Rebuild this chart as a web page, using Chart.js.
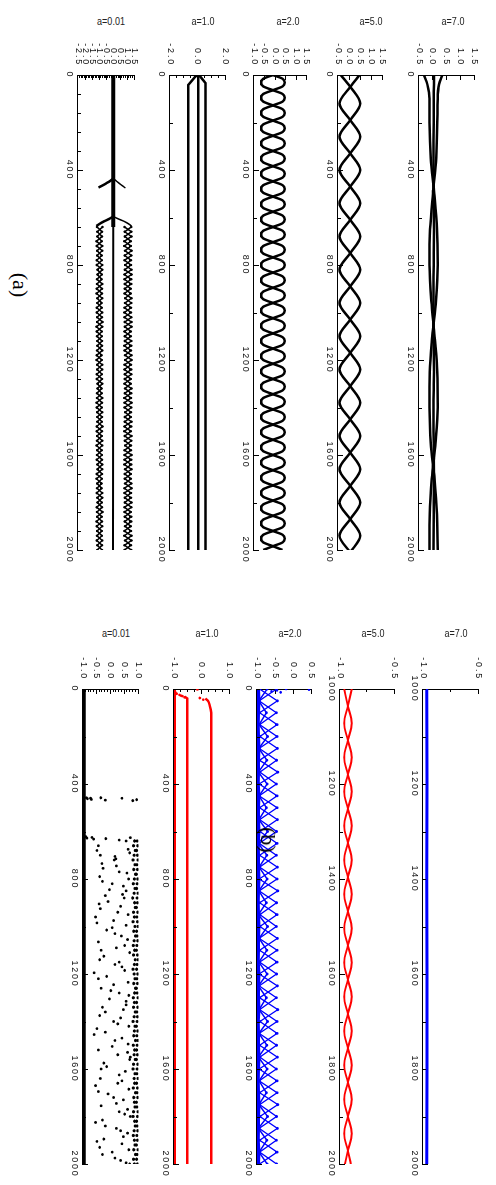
<!DOCTYPE html>
<html>
<head>
<meta charset="utf-8">
<script src="https://cdn.jsdelivr.net/npm/chart.js@4.4.0/dist/chart.umd.min.js"></script>
<style>
  html, body { margin: 0; padding: 0; background: #fff; }
  #fig { position: relative; width: 496px; height: 1185px; overflow: hidden; }
  canvas { position: absolute; left: 0; top: 0; transform-origin: 0 0; }
  .ttl { position: absolute; font-family: "Liberation Sans", sans-serif;
         font-size: 11px; color: #222; transform: translate(-50%, -50%) scaleX(0.82); white-space: nowrap; }
  .pl { position: absolute; font-family: "Liberation Serif", serif; font-size: 22px; color: #000;
        transform: translate(-50%, -50%) rotate(90deg); white-space: nowrap; }
</style>
</head>
<body>
<div id="fig"></div>
<script>
// ---- data (time along each strip, value across it) ----

// shared sample times for the dotted bands (640..2000 step 20)
const tBand = [640,660,680,700,720,740,760,780,800,820,840,860,880,900,920,940,960,980,1000,1020,
  1040,1060,1080,1100,1120,1140,1160,1180,1200,1220,1240,1260,1280,1300,1320,1340,1360,1380,1400,1420,
  1440,1460,1480,1500,1520,1540,1560,1580,1600,1620,1640,1660,1680,1700,1720,1740,1760,1780,1800,1820,
  1840,1860,1880,1900,1920,1940,1960,1980,2000];

// (a) a=0.01
const a1CoreT = [0, 640];
const a1CoreV = [0.0, 0.0];
const a1MidT = [640, 2000];
const a1MidV = [0.0, -0.02];
const a1Arm1LT = [436, 446, 456, 466, 474];
const a1Arm1LV = [0.0, -0.22, -0.5, -0.8, -1.05];
const a1Arm1RT = [436, 446, 458, 468, 476];
const a1Arm1RV = [0.0, 0.2, 0.45, 0.68, 0.85];
const a1Arm2LT = [596, 606, 616, 626, 636];
const a1Arm2LV = [0.0, -0.3, -0.65, -0.95, -1.2];
const a1Arm2RT = [596, 606, 616, 626, 636];
const a1Arm2RV = [0.0, 0.35, 0.75, 1.05, 1.28];
const a1L1 = [-1.16,-0.80,-1.14,-0.82,-1.18,-0.79,-1.15,-0.81,-1.17,-0.78,
  -1.13,-0.83,-1.16,-0.80,-1.19,-0.79,-1.14,-0.82,-1.17,-0.80,
  -1.15,-0.78,-1.18,-0.81,-1.14,-0.80,-1.16,-0.83,-1.19,-0.79,
  -1.15,-0.81,-1.17,-0.78,-1.13,-0.82,-1.16,-0.80,-1.18,-0.79,
  -1.14,-0.81,-1.17,-0.80,-1.15,-0.78,-1.19,-0.82,-1.16,-0.80,
  -1.14,-0.79,-1.18,-0.81,-1.15,-0.83,-1.17,-0.78,-1.13,-0.80,
  -1.16,-0.82,-1.19,-0.79,-1.15,-0.81,-1.17,-0.80,-1.14];
const a1L2 = [-0.77,-1.14,-0.80,-1.19,-0.78,-1.15,-0.82,-1.17,-0.79,-1.13,
  -0.81,-1.16,-0.78,-1.18,-0.80,-1.14,-0.83,-1.17,-0.79,-1.15,
  -0.77,-1.19,-0.81,-1.16,-0.80,-1.14,-0.78,-1.18,-0.82,-1.15,
  -0.79,-1.17,-0.80,-1.13,-0.83,-1.16,-0.78,-1.19,-0.81,-1.15,
  -0.80,-1.14,-0.77,-1.18,-0.82,-1.16,-0.79,-1.15,-0.81,-1.17,
  -0.78,-1.13,-0.80,-1.19,-0.83,-1.16,-0.79,-1.14,-0.81,-1.18,
  -0.77,-1.15,-0.80,-1.17,-0.82,-1.16,-0.79,-1.14,-0.80];
const a1R1 = [0.79,1.27,0.81,1.24,0.77,1.29,0.80,1.25,0.83,1.28,
  0.78,1.26,0.80,1.23,0.79,1.28,0.82,1.25,0.77,1.27,
  0.80,1.29,0.78,1.24,0.81,1.26,0.79,1.28,0.83,1.25,
  0.78,1.27,0.80,1.23,0.82,1.26,0.77,1.29,0.79,1.25,
  0.81,1.28,0.78,1.24,0.80,1.27,0.83,1.25,0.79,1.26,
  0.77,1.28,0.80,1.24,0.82,1.29,0.78,1.25,0.81,1.27,
  0.79,1.26,0.80,1.23,0.78,1.28,0.82,1.25,0.79];
const a1R2 = [1.26,0.80,1.28,0.77,1.24,0.82,1.27,0.79,1.25,0.81,
  1.29,0.78,1.26,0.80,1.23,0.83,1.27,0.79,1.25,0.78,
  1.28,0.81,1.24,0.80,1.27,0.77,1.25,0.82,1.29,0.79,
  1.26,0.80,1.23,0.78,1.28,0.81,1.25,0.79,1.27,0.83,
  1.24,0.80,1.26,0.77,1.28,0.81,1.25,0.79,1.29,0.78,
  1.26,0.82,1.24,0.80,1.27,0.78,1.25,0.81,1.28,0.79,
  1.23,0.80,1.26,0.82,1.25,0.77,1.28,0.79,1.26];

// (a) a=1.0
const a2LeftT = [0, 8, 42, 2000];
const a2LeftV = [-0.02, -0.2, -0.69, -0.69];
const a2MidT = [0, 2000];
const a2MidV = [0.03, 0.03];
const a2RightT = [0, 8, 34, 2000];
const a2RightV = [0.04, 0.2, 0.55, 0.55];

// (a) a=2.0  (two strands, loops about every 64 steps)
const tA3 = [0,16,32,48,64,80,96,112,128,144,
  160,176,192,208,224,240,256,272,288,304,
  320,336,352,368,384,400,416,432,448,464,
  480,496,512,528,544,560,576,592,608,624,
  640,656,672,688,704,720,736,752,768,784,
  800,816,832,848,864,880,896,912,928,944,
  960,976,992,1008,1024,1040,1056,1072,1088,1104,
  1120,1136,1152,1168,1184,1200,1216,1232,1248,1264,
  1280,1296,1312,1328,1344,1360,1376,1392,1408,1424,
  1440,1456,1472,1488,1504,1520,1536,1552,1568,1584,
  1600,1616,1632,1648,1664,1680,1696,1712,1728,1744,
  1760,1776,1792,1808,1824,1840,1856,1872,1888,1904,
  1920,1936,1952,1968,1984,2000];
const a3S1 = [-0.10,0.36,0.46,0.36,-0.10,-0.56,-0.66,-0.56,
  -0.10,0.36,0.46,0.36,-0.10,-0.56,-0.66,-0.56,
  -0.10,0.36,0.46,0.36,-0.10,-0.56,-0.66,-0.56,
  -0.10,0.36,0.46,0.36,-0.10,-0.56,-0.66,-0.56,
  -0.10,0.36,0.46,0.36,-0.10,-0.56,-0.66,-0.56,
  -0.10,0.36,0.46,0.36,-0.10,-0.56,-0.66,-0.56,
  -0.10,0.36,0.46,0.36,-0.10,-0.56,-0.66,-0.56,
  -0.10,0.36,0.46,0.36,-0.10,-0.56,-0.66,-0.56,
  -0.10,0.36,0.46,0.36,-0.10,-0.56,-0.66,-0.56,
  -0.10,0.36,0.46,0.36,-0.10,-0.56,-0.66,-0.56,
  -0.10,0.36,0.46,0.36,-0.10,-0.56,-0.66,-0.56,
  -0.10,0.36,0.46,0.36,-0.10,-0.56,-0.66,-0.56,
  -0.10,0.36,0.46,0.36,-0.10,-0.56,-0.66,-0.56,
  -0.10,0.36,0.46,0.36,-0.10,-0.56,-0.66,-0.56,
  -0.10,0.36,0.46,0.36,-0.10,-0.56,-0.66,-0.56,
  -0.10,0.36,0.46,0.36,-0.10,-0.56];
const a3S2 = [-0.10,-0.56,-0.66,-0.56,-0.10,0.36,0.46,0.36,
  -0.10,-0.56,-0.66,-0.56,-0.10,0.36,0.46,0.36,
  -0.10,-0.56,-0.66,-0.56,-0.10,0.36,0.46,0.36,
  -0.10,-0.56,-0.66,-0.56,-0.10,0.36,0.46,0.36,
  -0.10,-0.56,-0.66,-0.56,-0.10,0.36,0.46,0.36,
  -0.10,-0.56,-0.66,-0.56,-0.10,0.36,0.46,0.36,
  -0.10,-0.56,-0.66,-0.56,-0.10,0.36,0.46,0.36,
  -0.10,-0.56,-0.66,-0.56,-0.10,0.36,0.46,0.36,
  -0.10,-0.56,-0.66,-0.56,-0.10,0.36,0.46,0.36,
  -0.10,-0.56,-0.66,-0.56,-0.10,0.36,0.46,0.36,
  -0.10,-0.56,-0.66,-0.56,-0.10,0.36,0.46,0.36,
  -0.10,-0.56,-0.66,-0.56,-0.10,0.36,0.46,0.36,
  -0.10,-0.56,-0.66,-0.56,-0.10,0.36,0.46,0.36,
  -0.10,-0.56,-0.66,-0.56,-0.10,0.36,0.46,0.36,
  -0.10,-0.56,-0.66,-0.56,-0.10,0.36,0.46,0.36,
  -0.10,-0.56,-0.66,-0.56,-0.10,0.36];

// (a) a=5.0
const tA4 = [0,50,120,190,260,330,400,470,540,610,680,750,820,890,960,1030,1100,1170,1240,1310,
  1380,1450,1520,1590,1660,1730,1800,1870,1940,2010];
const a4S1 = [-0.38,0.05,0.50,0.05,-0.43,0.05,0.50,0.05,-0.43,0.05,0.50,0.05,-0.43,0.05,0.50,0.05,
  -0.43,0.05,0.50,0.05,-0.43,0.05,0.50,0.05,-0.43,0.05,0.50,0.05,-0.43,0.05];
const a4S2 = [0.47,0.05,-0.43,0.05,0.50,0.05,-0.43,0.05,0.50,0.05,-0.43,0.05,0.50,0.05,-0.43,0.05,
  0.50,0.05,-0.43,0.05,0.50,0.05,-0.43,0.05,0.50,0.05,-0.43,0.05,0.50,0.05];

// (a) a=7.0
const tA5 = [0,40,100,200,350,500,650,800,950,1100,1250,1400,1550,1700,1850,2000];
const a5S1 = [0.34,0.22,0.17,0.16,0.12,0.00,-0.10,-0.12,-0.06,0.06,0.16,0.17,0.09,-0.04,-0.11,-0.12];
const a5S2 = [-0.32,-0.20,-0.12,-0.12,-0.08,0.05,0.15,0.17,0.11,-0.02,-0.11,-0.12,-0.08,0.06,0.15,0.17];
const a5S3 = [0.04,0.04,0.03,0.03,0.02,0.03,0.04,0.03,0.02,0.03,0.04,0.02,0.03,0.04,0.03,0.02];

// (b) a=0.01
const b1LineT = [0, 2000];
const b1LineV = [-0.975, -0.975];
const b1RB1 = [0.95,0.97,0.93,0.96,0.98,0.94,0.96,0.92,0.97,0.95,
  0.93,0.98,0.95,0.96,0.92,0.97,0.94,0.96,0.98,0.93,
  0.95,0.97,0.94,0.92,0.96,0.98,0.95,0.93,0.97,0.94,
  0.96,0.92,0.95,0.98,0.93,0.97,0.94,0.96,0.95,0.92,
  0.97,0.94,0.98,0.95,0.93,0.96,0.92,0.97,0.95,0.94,
  0.98,0.93,0.96,0.95,0.97,0.92,0.94,0.98,0.96,0.93,
  0.95,0.97,0.94,0.96,0.92,0.98,0.95,0.93,0.96];
const b1RB2 = [0.86,0.82,0.88,0.84,0.80,0.87,0.83,0.89,0.85,0.81,
  0.87,0.84,0.79,0.86,0.88,0.82,0.85,0.80,0.87,0.83,
  0.89,0.84,0.81,0.86,0.82,0.88,0.85,0.80,0.84,0.87,
  0.83,0.89,0.86,0.81,0.85,0.82,0.88,0.84,0.80,0.87,
  0.85,0.83,0.89,0.81,0.86,0.84,0.88,0.82,0.80,0.87,
  0.84,0.86,0.81,0.89,0.83,0.85,0.87,0.82,0.80,0.86,
  0.88,0.84,0.81,0.85,0.87,0.83,0.89,0.82,0.85];
const b1ScT = [458,462,460,465,458,468,460,470,466,
  622,628,625,632,630,636,640,626,
  660,680,700,720,745,770,790,810,830,850,870,895,915,940,960,985,1005,1030,1055,1080,
  1100,1125,1150,1170,1195,1220,1245,1270,1290,1315,1340,1360,1385,1410,1430,1455,1480,1505,
  1530,1550,1575,1600,1625,1650,1670,1695,1720,1745,1770,1790,1815,1840,1860,1885,1905,1930,1950,1975,1995];
const b1ScV = [-0.88,-0.84,-0.73,-0.70,-0.36,-0.20,0.40,0.79,0.93,
  -0.90,-0.86,-0.68,-0.62,-0.18,0.30,0.55,0.70,
  -0.45,-0.50,-0.38,0.12,0.20,0.30,-0.40,-0.30,0.45,0.55,-0.20,-0.10,0.35,0.25,-0.55,-0.50,0.05,0.15,0.60,0.50,
  -0.35,-0.25,0.30,0.40,-0.60,-0.45,0.10,0.00,0.65,0.55,-0.30,-0.20,0.35,0.25,-0.50,-0.60,0.15,0.05,
  0.60,0.70,-0.25,-0.35,0.30,0.40,-0.55,-0.45,0.10,0.20,0.60,0.50,-0.30,-0.20,0.35,0.45,-0.50,-0.40,0.05,0.15,0.55];
const b1ScT2 = [675,690,705,715,735,755,775,800,820,845,865,880,905,925,950,975,995,1015,1040,1065,
  1090,1110,1140,1160,1185,1210,1235,1260,1280,1305,1330,1350,1375,1400,1420,1445,1470,1495,1520,1540,
  1560,1590,1610,1640,1660,1685,1705,1730,1755,1780,1800,1825,1850,1870,1895,1915,1940,1960,1985,2000];
const b1ScV2 = [0.62,0.68,0.15,0.18,-0.32,-0.28,0.58,0.64,0.05,-0.05,0.42,0.48,-0.42,-0.38,0.62,0.10,0.55,-0.15,0.38,-0.45,
  0.20,0.68,-0.40,0.15,0.50,-0.15,0.62,-0.35,0.30,-0.05,0.55,0.45,-0.40,0.10,0.65,-0.20,0.40,0.62,-0.45,0.25,
  0.68,-0.15,0.52,-0.38,0.25,0.65,-0.10,0.45,-0.35,0.30,0.70,-0.55,0.20,0.60,-0.25,0.40,0.65,-0.30,0.35,0.68];

// (b) a=1.0
const b2EdgeT = [0, 2000];
const b2EdgeV = [-0.985, -0.985];
const b2MidT = [32, 40, 2000];
const b2MidV = [-0.62, -0.52, -0.52];
const b2RightT = [40, 50, 67, 100, 2000];
const b2RightV = [0.13, 0.22, 0.28, 0.34, 0.34];
const b2DotT = [15, 20, 25, 30, 35, 28, 2, 38, 45];
const b2DotV = [-0.95, -0.90, -0.80, -0.70, -0.62, -0.75, -0.16, -0.07, 0.05];

// (b) a=2.0
const tB3 = [0,50,100,150,200,250,300,350,400,450,500,550,600,650,700,750,800,850,900,950,
  1000,1050,1100,1150,1200,1250,1300,1350,1400,1450,1500,1550,1600,1650,1700,1750,1800,1850,1900,1950,2000];
const b3Edge = [-0.97,-0.96,-0.97,-0.98,-0.97,-0.96,-0.97,-0.97,-0.98,-0.96,-0.97,-0.97,-0.96,-0.98,-0.97,
  -0.97,-0.96,-0.97,-0.98,-0.97,-0.96,-0.97,-0.97,-0.98,-0.96,-0.97,-0.97,-0.96,-0.98,-0.97,
  -0.97,-0.96,-0.97,-0.98,-0.97,-0.96,-0.97,-0.97,-0.98,-0.96,-0.97];
const b3Z1 = [-0.93,-0.44,-0.93,-0.45,-0.92,-0.44,-0.93,-0.43,-0.94,-0.45,-0.93,-0.44,-0.92,-0.45,-0.93,
  -0.44,-0.94,-0.43,-0.93,-0.45,-0.92,-0.44,-0.93,-0.45,-0.94,-0.44,-0.93,-0.43,-0.92,-0.45,
  -0.93,-0.44,-0.94,-0.45,-0.93,-0.43,-0.92,-0.44,-0.93,-0.45,-0.93];
const b3Z2 = [-0.46,-0.94,-0.47,-0.93,-0.45,-0.94,-0.46,-0.92,-0.47,-0.94,-0.45,-0.93,-0.46,-0.94,-0.47,
  -0.93,-0.45,-0.94,-0.46,-0.92,-0.47,-0.94,-0.45,-0.93,-0.46,-0.94,-0.47,-0.93,-0.45,-0.94,
  -0.46,-0.92,-0.47,-0.94,-0.45,-0.93,-0.46,-0.94,-0.47,-0.93,-0.46];
const b3Z3 = [-0.72,-0.95,-0.74,-0.94,-0.71,-0.95,-0.73,-0.96,-0.72,-0.94,-0.74,-0.95,-0.71,-0.96,-0.73,
  -0.94,-0.72,-0.95,-0.74,-0.96,-0.71,-0.94,-0.73,-0.95,-0.72,-0.96,-0.74,-0.94,-0.71,-0.95,
  -0.73,-0.96,-0.72,-0.94,-0.74,-0.95,-0.71,-0.96,-0.73,-0.94,-0.72];
const b3DotT = [0, 3, 6, 10, 14];
const b3DotV = [-0.20, 0.43, -0.45, -0.60, -0.35];

// (b) a=5.0
const tB4 = [1000,1036,1072,1108,1144,1180,1216,1252,1288,1324,1360,1396,1432,1468,1504,1540,1576,1612,1648,1684,
  1720,1756,1792,1828,1864,1900,1936,1972,2008];
const b4S1 = [-0.893,-0.928,-0.962,-0.928,-0.893,-0.928,-0.962,-0.928,-0.893,-0.928,-0.962,-0.928,-0.893,-0.928,-0.962,
  -0.928,-0.893,-0.928,-0.962,-0.928,-0.893,-0.928,-0.962,-0.928,-0.893,-0.928,-0.962,-0.928,-0.893];
const b4S2 = [-0.962,-0.928,-0.893,-0.928,-0.962,-0.928,-0.893,-0.928,-0.962,-0.928,-0.893,-0.928,-0.962,-0.928,-0.893,
  -0.928,-0.962,-0.928,-0.893,-0.928,-0.962,-0.928,-0.893,-0.928,-0.962,-0.928,-0.893,-0.928,-0.962];

// (b) a=7.0
const tB5 = [1000, 1200, 1400, 1600, 1800, 2000];
const b5V = [-0.966, -0.964, -0.967, -0.965, -0.963, -0.966];

// ---- drawing ----
const BLACK = '#000', RED = '#ff0000', BLUE = '#0000ff';
const YW = 45, XH = 22, RP = 22, TP = 8;   // axis boxes in the unrotated canvas

function line(t, v, color, w, extra) {
  return Object.assign({
    data: t.map((x, i) => ({ x: x, y: v[i] })),
    showLine: true, borderColor: color, backgroundColor: color,
    borderWidth: w, pointRadius: 0, pointBorderWidth: 0, tension: 0
  }, extra || {});
}
function dots(t, v, color, r) {
  return {
    data: t.map((x, i) => ({ x: x, y: v[i] })),
    showLine: false, borderColor: color, backgroundColor: color,
    pointRadius: r, pointBorderWidth: 0
  };
}
const smooth = { cubicInterpolationMode: 'monotone' };

const panels = [
  { title: 'a=0.01', cx: 111, cy: 21, L: 78, R: 146, T: 75, B: 550, vmin: -2.5, vmax: 1.5, vstep: 0.5, vminor: 0.125,
    tmin: 0, tmax: 2000, tstep: 400, tminor: 80,
    sets: [
      line(a1CoreT, a1CoreV, BLACK, 4),
      line(a1MidT, a1MidV, BLACK, 2),
      line(a1Arm1LT, a1Arm1LV, BLACK, 2.5, smooth),
      line(a1Arm1RT, a1Arm1RV, BLACK, 1.5, smooth),
      line(a1Arm2LT, a1Arm2LV, BLACK, 2.5, smooth),
      line(a1Arm2RT, a1Arm2RV, BLACK, 1.5, smooth),
      line(tBand, a1L1, BLACK, 1.5, { pointRadius: 1.2 }),
      line(tBand, a1L2, BLACK, 1.5, { pointRadius: 1.2 }),
      line(tBand, a1R1, BLACK, 1.5, { pointRadius: 1.2 }),
      line(tBand, a1R2, BLACK, 1.5, { pointRadius: 1.2 })
    ] },
  { title: 'a=1.0', cx: 203, cy: 21, L: 170, R: 237, T: 75, B: 550, vmin: -2, vmax: 2, vstep: 2, vminor: 0.5,
    tmin: 0, tmax: 2000, tstep: 400, tminor: 200,
    sets: [
      line(a2LeftT, a2LeftV, BLACK, 2.5),
      line(a2MidT, a2MidV, BLACK, 2.5),
      line(a2RightT, a2RightV, BLACK, 2.5)
    ] },
  { title: 'a=2.0', cx: 288, cy: 21, L: 254, R: 318, T: 75, B: 550, vmin: -1, vmax: 1.5, vstep: 0.5, vminor: 0,
    tmin: 0, tmax: 2000, tstep: 400, tminor: 200,
    sets: [
      line(tA3, a3S1, BLACK, 2.5, smooth),
      line(tA3, a3S2, BLACK, 2.5, smooth)
    ] },
  { title: 'a=5.0', cx: 371, cy: 21, L: 338, R: 394, T: 75, B: 550, vmin: -0.5, vmax: 1.5, vstep: 0.5, vminor: 0,
    tmin: 0, tmax: 2000, tstep: 400, tminor: 200,
    sets: [
      line(tA4, a4S1, BLACK, 2.5, smooth),
      line(tA4, a4S2, BLACK, 2.5, smooth)
    ] },
  { title: 'a=7.0', cx: 453, cy: 21, L: 419, R: 486, T: 75, B: 550, vmin: -0.5, vmax: 1.5, vstep: 0.5, vminor: 0,
    tmin: 0, tmax: 2000, tstep: 400, tminor: 200,
    sets: [
      line(tA5, a5S1, BLACK, 2.5, smooth),
      line(tA5, a5S2, BLACK, 2.5, smooth),
      line(tA5, a5S3, BLACK, 2.5, smooth)
    ] },
  { title: 'a=0.01', cx: 116, cy: 633, L: 83, R: 150, T: 689, B: 1164, vmin: -1, vmax: 1, vstep: 0.5, vminor: 0.1,
    tmin: 0, tmax: 2000, tstep: 400, tminor: 200,
    sets: [
      line(b1LineT, b1LineV, BLACK, 4),
      dots(tBand, b1RB1, BLACK, 1.6),
      dots(tBand, b1RB2, BLACK, 1.6),
      dots(b1ScT, b1ScV, BLACK, 1.4),
      dots(b1ScT2, b1ScV2, BLACK, 1.4)
    ] },
  { title: 'a=1.0', cx: 207, cy: 633, L: 174, R: 241, T: 689, B: 1164, vmin: -1, vmax: 1, vstep: 1, vminor: 0.25,
    tmin: 0, tmax: 2000, tstep: 400, tminor: 200,
    sets: [
      line(b2EdgeT, b2EdgeV, RED, 3),
      line(b2MidT, b2MidV, RED, 2.5),
      line(b2RightT, b2RightV, RED, 2.5, smooth),
      dots(b2DotT, b2DotV, RED, 1.3)
    ] },
  { title: 'a=2.0', cx: 290, cy: 633, L: 257, R: 323, T: 689, B: 1164, vmin: -1, vmax: 0.5, vstep: 0.5, vminor: 0,
    tmin: 0, tmax: 2000, tstep: 400, tminor: 200,
    sets: [
      line(tB3, b3Edge, BLUE, 4, { pointRadius: 1.2 }),
      line(tB3, b3Z3, BLUE, 1.5, { pointRadius: 1.4 }),
      line(tB3, b3Z1, BLUE, 1.3, { pointRadius: 1.4 }),
      line(tB3, b3Z2, BLUE, 1.3, { pointRadius: 1.4 }),
      dots(b3DotT, b3DotV, BLUE, 1.3)
    ] },
  { title: 'a=5.0', cx: 373, cy: 633, L: 340, R: 406, T: 689, B: 1164, vmin: -1, vmax: -0.5, vstep: 0.5, vminor: 0.25,
    tmin: 1000, tmax: 2000, tstep: 200, tminor: 100,
    sets: [
      line(tB4, b4S1, RED, 2, smooth),
      line(tB4, b4S2, RED, 2, smooth)
    ] },
  { title: 'a=7.0', cx: 456, cy: 633, L: 423, R: 490, T: 689, B: 1164, vmin: -1, vmax: -0.5, vstep: 0.5, vminor: 0.25,
    tmin: 1000, tmax: 2000, tstep: 200, tminor: 100,
    sets: [
      line(tB5, b5V, BLUE, 3)
    ] }
];

// small inward ticks between the labelled ones
const minorTicks = {
  id: 'minorTicks',
  afterDraw(chart, args, o) {
    const ctx = chart.ctx, a = chart.chartArea, xs = chart.scales.x, ys = chart.scales.y;
    ctx.save();
    ctx.strokeStyle = '#000';
    ctx.lineWidth = 1;
    ctx.beginPath();
    if (o.t) {
      for (let t = xs.min; t <= xs.max + 1e-6; t += o.t) {
        const px = Math.round(xs.getPixelForValue(t)) + 0.5;
        ctx.moveTo(px, a.bottom); ctx.lineTo(px, a.bottom - 3);
      }
    }
    if (o.v) {
      for (let v = ys.min; v <= ys.max + 1e-6; v += o.v) {
        const py = Math.round(ys.getPixelForValue(v)) + 0.5;
        ctx.moveTo(a.left, py); ctx.lineTo(a.left + 3, py);
      }
    }
    ctx.stroke();
    ctx.restore();
  }
};
const spaced = { id: 'spaced', beforeDraw(chart) { chart.ctx.letterSpacing = '1.8px'; } };

const fig = document.getElementById('fig');
const tickFont = { family: 'Liberation Sans', size: 9 };

panels.forEach(p => {
  const w = YW + (p.B - p.T) + RP;
  const h = TP + (p.R - p.L) + XH;
  const cv = document.createElement('canvas');
  cv.width = w; cv.height = h;
  cv.style.transform = 'translate(' + (p.R + TP) + 'px,' + (p.T - YW) + 'px) rotate(90deg)';
  fig.appendChild(cv);

  new Chart(cv, {
    type: 'scatter',
    data: { datasets: p.sets },
    options: {
      responsive: false, animation: false, events: [], devicePixelRatio: 1,
      layout: { padding: { left: 0, right: RP, top: TP, bottom: 0 } },
      plugins: { legend: { display: false }, tooltip: { enabled: false },
                 minorTicks: { t: p.tminor, v: p.vminor } },
      scales: {
        x: {
          type: 'linear', position: 'bottom', min: p.tmin, max: p.tmax,
          ticks: { stepSize: p.tstep, autoSkip: false, maxRotation: 0, minRotation: 0, padding: 8,
                   color: '#111', font: tickFont, callback: v => String(v) },
          grid: { drawOnChartArea: false, drawTicks: true, tickLength: -5, color: '#000', lineWidth: 1 },
          border: { display: true, color: '#000', width: 1 },
          afterFit: s => { s.height = XH; }
        },
        y: {
          type: 'linear', position: 'left', min: p.vmin, max: p.vmax,
          ticks: { stepSize: p.vstep, autoSkip: false, padding: 14, color: '#111', font: tickFont,
                   callback: v => Number(v).toFixed(1) },
          grid: { drawOnChartArea: false, drawTicks: true, tickLength: -5, color: '#000', lineWidth: 1 },
          border: { display: true, color: '#000', width: 1 },
          afterFit: s => { s.width = YW; }
        }
      }
    },
    plugins: [minorTicks, spaced]
  });

  const t = document.createElement('div');
  t.className = 'ttl';
  t.textContent = p.title;
  t.style.left = p.cx + 'px';
  t.style.top = p.cy + 'px';
  fig.appendChild(t);
});

[['(a)', 20, 285], ['(b)', 268, 840]].forEach(([s, x, y]) => {
  const d = document.createElement('div');
  d.className = 'pl';
  d.textContent = s;
  d.style.left = x + 'px';
  d.style.top = y + 'px';
  fig.appendChild(d);
});
</script>
</body>
</html>
